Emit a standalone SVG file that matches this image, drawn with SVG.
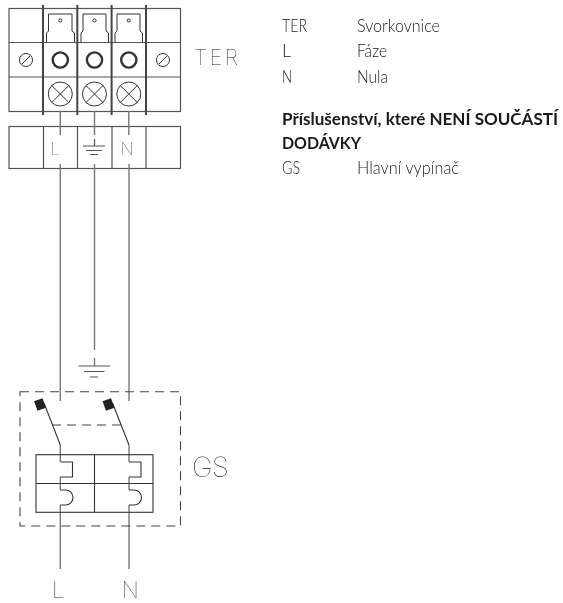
<svg xmlns="http://www.w3.org/2000/svg" width="563" height="603" viewBox="0 0 563 603">
<defs><filter id="g" x="-20%" y="-20%" width="140%" height="140%" color-interpolation-filters="sRGB"><feOffset dx="0" dy="0"/></filter></defs>
<style>
.l{fill:none;stroke:#555;stroke-width:1.2}
.w{fill:none;stroke:#777;stroke-width:1.4}
.k{fill:none;stroke:#333;stroke-width:1.1}
.t{fill:none;stroke:#333;stroke-width:1}
.h{fill:none;stroke:#444;stroke-width:2}
.d{fill:none;stroke:#444;stroke-width:1.1;stroke-dasharray:9 6}
.c{font-family:Inter,"Liberation Sans",sans-serif;fill:#222;font-weight:100;filter:url(#g)}
.x{font-family:Lato,"Liberation Sans",sans-serif;font-size:18px;fill:#222;font-weight:300;filter:url(#g)}
.b{font-family:Lato,"Liberation Sans",sans-serif;font-size:17px;fill:#1a1a1a;font-weight:700;filter:url(#g)}
</style>
<g id="terminal-top">
<rect class="l" x="9" y="8.500" width="171.500" height="103"/>
<path class="l" d="M9 42.500H180.500M9 77H180.500"/>
<path class="h" d="M43 5V115M77.300 5V115M111.600 5V115M146 5V115"/>
<path class="t" d="M46.500 42.500V33L48.500 31V14H72V31L74.500 33V42.500"/>
<path class="t" d="M81 42.500V33L83 31V14H106V31L108.500 33V42.500"/>
<path class="t" d="M115 42.500V33L117 31V14H140V31L142.500 33V42.500"/>
<circle class="t" cx="60.300" cy="20.500" r="1.600"/><circle class="t" cx="94.500" cy="20.500" r="1.600"/><circle class="t" cx="128.800" cy="20.500" r="1.600"/>
<circle cx="60.300" cy="60" r="7.600" fill="none" stroke="#333" stroke-width="2.400"/>
<circle cx="94.500" cy="60" r="7.600" fill="none" stroke="#333" stroke-width="2.400"/>
<circle cx="128.800" cy="60" r="7.600" fill="none" stroke="#333" stroke-width="2.400"/>
<circle class="t" cx="26" cy="60" r="6.500"/><path class="t" d="M22 64L30 56"/>
<circle class="t" cx="163" cy="60" r="6.500"/><path class="t" d="M159 64L167 56"/>
<circle class="t" cx="60.300" cy="94" r="12"/><path class="t" d="M51.800 85.500L68.800 102.500M68.800 85.500L51.800 102.500"/>
<circle class="t" cx="94.500" cy="94" r="12"/><path class="t" d="M86 85.500L103 102.500M103 85.500L86 102.500"/>
<circle class="t" cx="128.800" cy="94" r="12"/><path class="t" d="M120.300 85.500L137.300 102.500M137.300 85.500L120.300 102.500"/>
<text class="c" x="194" y="64.500" font-size="22" textLength="44" lengthAdjust="spacing">TER</text>
</g>
<g id="terminal-bottom">
<rect class="l" x="9" y="126.500" width="171.500" height="42"/>
<path class="l" d="M43.500 126.500V168.500M77.500 126.500V168.500M112 126.500V168.500M146 126.500V168.500"/>
<text class="c" x="50.500" y="155" font-size="17">L</text>
<text class="c" x="120.500" y="155" font-size="17">N</text>
<path class="l" d="M83 146H105M86 150.500H102M90 154.500H98M94.500 139V146"/>
</g>
<g id="connectors">
<path class="w" d="M60.300 111V135M94.500 111V135M128.800 111V135"/>
<path class="w" d="M60.300 164V401M129 164V401M94.500 164V350M94.500 358V366"/>
<path class="w" d="M60.300 445V462M60.300 477V490M60.300 505V569M129 445V462M129 477V490M129 505V569"/>
</g>
<g id="earth">
<path class="l" d="M78.500 366H110M84 371.500H104.500M90 377H98"/>
</g>
<g id="GS">
<rect class="d" x="20" y="391.700" width="160.500" height="134.300"/>
<rect class="k" x="36" y="454.700" width="117" height="57.600"/>
<path class="k" d="M36 483.500H153M94.500 454.700V512.300"/>
<path class="k" d="M60.300 445L44 403M129 445L112.500 403"/>
<rect x="35.500" y="399.500" width="9" height="10" fill="#222" transform="rotate(-20 40 404.500)"/>
<rect x="104" y="399.500" width="9" height="10" fill="#222" transform="rotate(-20 108.500 404.500)"/>
<path class="d" d="M52 425H121"/>
<path class="k" d="M60.300 462H72.500V477H60.300M129 462H141V477H129"/>
<path class="k" d="M60.300 490H65.500A7.500 7.500 0 0 1 65.500 505H60.300M129 490H134A7.500 7.500 0 0 1 134 505H129"/>
<text class="c" x="192" y="477" font-size="28" textLength="37" lengthAdjust="spacing">GS</text>
</g>
<g id="bottom-labels">
<text class="c" x="52" y="597.500" font-size="22.500">L</text>
<text class="c" x="121.500" y="597.500" font-size="22.500">N</text>
</g>
<g id="legend">
<text class="x" x="282" y="32" textLength="25" lengthAdjust="spacingAndGlyphs">TER</text>
<text class="x" x="357" y="32" textLength="83" lengthAdjust="spacingAndGlyphs">Svorkovnice</text>
<text class="x" x="282" y="57">L</text>
<text class="x" x="357" y="57" textLength="30" lengthAdjust="spacingAndGlyphs">Fáze</text>
<text class="x" x="282" y="83" textLength="10" lengthAdjust="spacingAndGlyphs">N</text>
<text class="x" x="357" y="83" textLength="31" lengthAdjust="spacingAndGlyphs">Nula</text>
<text class="b" x="282" y="125" textLength="276" lengthAdjust="spacingAndGlyphs">Příslušenství, které NENÍ SOUČÁSTÍ</text>
<text class="b" x="282" y="149" textLength="79" lengthAdjust="spacingAndGlyphs">DODÁVKY</text>
<text class="x" x="282" y="174" textLength="18" lengthAdjust="spacingAndGlyphs">GS</text>
<text class="x" x="357" y="174" textLength="102" lengthAdjust="spacingAndGlyphs">Hlavní vypínač</text>
</g>
</svg>
